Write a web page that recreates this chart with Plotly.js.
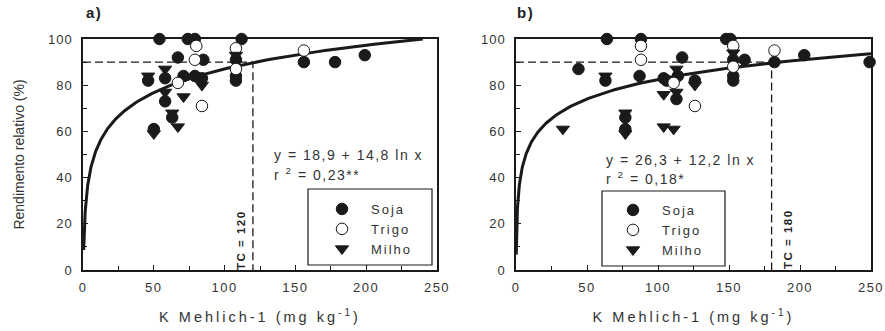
<!DOCTYPE html>
<html><head><meta charset="utf-8">
<script src="https://cdn.plot.ly/plotly-3.0.1.min.js"></script>
<style>
body{margin:0;background:#fff}#chart{width:885px;height:331px}
.xtitle, .x2title {letter-spacing: 3px;}
.annotation-text {letter-spacing: 1.5px;}
text[class*="legend"] {letter-spacing: 2px;}
.xtick text, .x2tick text {letter-spacing: 1.5px;}
.ytick text, .y2tick text {letter-spacing: 1px;}
</style>
</head><body><div id="chart"></div>
<script>
// ---------- Data ----------
// Panel a
const sojaA_x  = [54, 74, 79, 112, 67, 85, 108, 108, 108, 58, 46, 71, 79, 84, 58, 63, 50, 156, 178, 199];
const sojaA_y  = [100, 100, 100, 100, 92, 91, 91, 84, 82, 83, 82, 84, 84, 83, 73, 66, 61, 90, 90, 93];
const trigoA_x = [80, 108, 79, 108, 67, 84, 156];
const trigoA_y = [97, 96, 91, 87, 81, 71, 95];
const milhoA_x = [108, 58, 46, 84, 58, 71, 63, 50, 67];
const milhoA_y = [93, 87, 84, 80, 77, 75, 68, 59, 62];
// Panel b
const sojaB_x  = [64, 88, 148, 151, 44, 63, 87, 104, 106, 117, 114, 113, 77, 77, 126, 153, 161, 153, 153, 182, 203, 249];
const sojaB_y  = [100, 100, 100, 100, 87, 82, 84, 83, 82, 92, 84, 74, 66, 61, 82, 91, 91, 84, 82, 90, 93, 90];
const trigoB_x = [88, 88, 111, 126, 153, 153, 182];
const trigoB_y = [97, 91, 81, 71, 97, 88, 95];
const milhoB_x = [63, 113, 104, 113, 33, 77, 77, 104, 111, 126, 153];
const milhoB_y = [84, 87, 76, 77, 61, 68, 59, 62, 61, 80, 94];
// Fitted equations (as printed): y = a + b ln x
const fitA = [18.9, 14.8];
const fitB = [26.3, 12.2];
const fitRangeA = [0.5, 240];
const fitRangeB = [0.2, 250];
// Critical levels
const tcA = 120, tcB = 180, ryTarget = 90;
const xTicks = [0, 50, 100, 150, 200, 250];
const yTicks = [0, 20, 40, 60, 80, 100];

// ---------- Helpers ----------
function fitCurve(coef, rng) {
  const xs = [], ys = [];
  const n = 200, l0 = Math.log(rng[0]), l1 = Math.log(rng[1]);
  for (let i = 0; i <= n; i++) {
    const x = Math.exp(l0 + (l1 - l0) * i / n);
    xs.push(x); ys.push(coef[0] + coef[1] * Math.log(x));
  }
  return {x: xs, y: ys};
}
const INK = '#1a1a1a', TXT = '#333';
const FONT = 'Liberation Sans, Arial, sans-serif';
function pts(x, y, name, sym, fill, xa, ya, leg) {
  return {type: 'scatter', mode: 'markers', x: x, y: y, name: name, xaxis: xa, yaxis: ya,
    legend: leg, cliponaxis: false,
    marker: {symbol: sym, size: 11.5, color: fill, line: {color: INK, width: 1}}};
}
const cA = fitCurve(fitA, fitRangeA), cB = fitCurve(fitB, fitRangeB);
const traces = [
  {type: 'scatter', mode: 'lines', x: [0, tcA, tcA], y: [ryTarget, ryTarget, 0], xaxis: 'x', yaxis: 'y',
   line: {color: INK, width: 1.3, dash: '8px,4px'}, showlegend: false, hoverinfo: 'skip'},
  {type: 'scatter', mode: 'lines', x: [0, tcB, tcB], y: [ryTarget, ryTarget, 0], xaxis: 'x2', yaxis: 'y2',
   line: {color: INK, width: 1.3, dash: '8px,4px'}, showlegend: false, hoverinfo: 'skip'},
  {type: 'scatter', mode: 'lines', x: cA.x, y: cA.y, xaxis: 'x', yaxis: 'y', cliponaxis: false,
   line: {color: INK, width: 3}, showlegend: false},
  {type: 'scatter', mode: 'lines', x: cB.x, y: cB.y, xaxis: 'x2', yaxis: 'y2', cliponaxis: false,
   line: {color: INK, width: 3}, showlegend: false},
  pts(sojaA_x, sojaA_y, 'Soja', 'circle', INK, 'x', 'y', 'legend'),
  pts(trigoA_x, trigoA_y, 'Trigo', 'circle', '#fff', 'x', 'y', 'legend'),
  pts(milhoA_x, milhoA_y, 'Milho', 'triangle-down', INK, 'x', 'y', 'legend'),
  pts(sojaB_x, sojaB_y, 'Soja', 'circle', INK, 'x2', 'y2', 'legend2'),
  pts(trigoB_x, trigoB_y, 'Trigo', 'circle', '#fff', 'x2', 'y2', 'legend2'),
  pts(milhoB_x, milhoB_y, 'Milho', 'triangle-down', INK, 'x2', 'y2', 'legend2')
];

const W = 885, H = 331;
const px = v => v / W, py = v => 1 - v / H;
function xax(dom, anchor, title) {
  return {domain: dom, anchor: anchor, range: [0, 250], tickvals: xTicks, showgrid: false, zeroline: false,
    showline: true, linecolor: INK, linewidth: 1.5, mirror: true, ticks: 'inside', ticklen: 5, tickcolor: INK,
    minor: {tickvals: [25, 75, 125, 175, 225], ticks: 'inside', ticklen: 4, tickcolor: INK},
    tickfont: {family: FONT, size: 13, color: TXT}, ticklabelstandoff: 5,
    title: {text: title, font: {family: FONT, size: 14.5, color: TXT}, standoff: 18}};
}
function yax(anchor, title) {
  return {domain: [py(270), py(39)], anchor: anchor, range: [0, 100], tickvals: yTicks, showgrid: false, zeroline: false,
    showline: true, linecolor: INK, linewidth: 1.5, mirror: true, ticks: 'inside', ticklen: 5, tickcolor: INK,
    minor: {tickvals: [10, 30, 50, 70, 90], ticks: 'inside', ticklen: 4, tickcolor: INK},
    tickfont: {family: FONT, size: 13, color: TXT}, ticklabelstandoff: 6,
    title: {text: title, font: {family: FONT, size: 14, color: TXT}, standoff: 20}};
}
const xTitle = 'K Mehlich-1 (mg kg<sup>-1</sup>)';
function leg(x, y) {
  return {x: x, y: y, xanchor: 'left', yanchor: 'top', bgcolor: 'rgba(0,0,0,0)', borderwidth: 0,
    font: {family: FONT, size: 13, color: TXT}, itemwidth: 48, tracegroupgap: 0};
}
function ann(text, x, y, opts) {
  return Object.assign({text: text, xref: 'paper', yref: 'paper', x: x, y: y, showarrow: false,
    xanchor: 'left', yanchor: 'middle', font: {family: FONT, size: 14, color: TXT}}, opts || {});
}
const layout = {
  width: W, height: H, margin: {l: 0, r: 0, t: 0, b: 0},
  paper_bgcolor: '#fff', plot_bgcolor: '#fff', showlegend: true,
  font: {family: FONT, color: TXT},
  xaxis: xax([px(83), px(437)], 'y', xTitle),
  yaxis: yax('x', 'Rendimento relativo (%)'),
  xaxis2: xax([px(516), px(871)], 'y2', xTitle),
  yaxis2: yax('x2', ''),
  legend: leg(px(313), py(194)),
  legend2: leg(px(604), py(195)),
  shapes: [
    {type: 'rect', xref: 'paper', yref: 'paper', x0: px(308), x1: px(432), y0: py(265), y1: py(189),
     line: {color: INK, width: 1.2}, fillcolor: 'rgba(0,0,0,0)'},
    {type: 'rect', xref: 'paper', yref: 'paper', x0: px(602), x1: px(725), y0: py(266), y1: py(191),
     line: {color: INK, width: 1.2}, fillcolor: 'rgba(0,0,0,0)'}
  ],
  annotations: [
    ann('<b>a)</b>', px(84), py(12), {font: {family: FONT, size: 15, color: '#222'}}),
    ann('<b>b)</b>', px(515), py(12), {font: {family: FONT, size: 15, color: '#222'}}),
    ann('y = 18,9 + 14,8 ln x', px(272), py(155)),
    ann('r <sup>2</sup> = 0,23**', px(272), py(174)),
    ann('y = 26,3 + 12,2 ln x', px(604), py(160)),
    ann('r <sup>2</sup> = 0,18*', px(604), py(178)),
    ann('<b>TC = 120</b>', px(241), py(240), {xanchor: 'center', textangle: -90, font: {family: FONT, size: 11.5, color: '#222'}}),
    ann('<b>TC = 180</b>', px(788), py(239), {xanchor: 'center', textangle: -90, font: {family: FONT, size: 11.5, color: '#222'}})
  ]
};
Plotly.newPlot('chart', traces, layout, {displayModeBar: false, responsive: false});
</script></body></html>
